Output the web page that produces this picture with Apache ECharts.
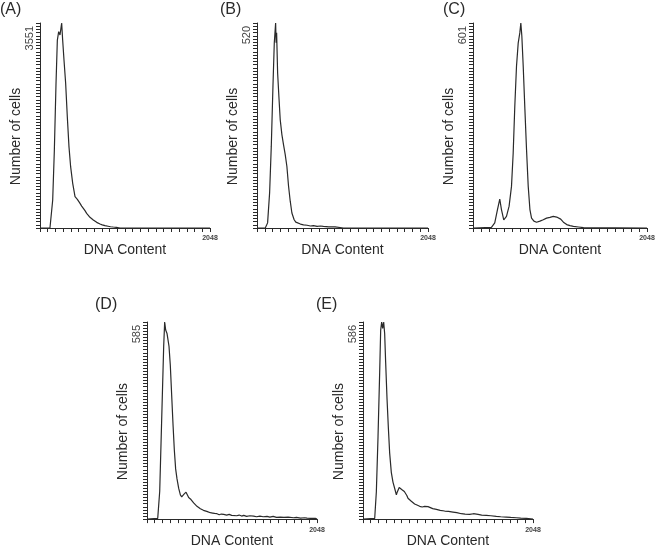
<!DOCTYPE html>
<html><head><meta charset="utf-8">
<script src="https://cdn.jsdelivr.net/npm/echarts@6/dist/echarts.min.js"></script>
<style>html,body{margin:0;padding:0;background:#fff}#c{width:658px;height:549px}</style>
</head><body><div id="c"></div>
<script>
// ---- data ----
const panelLabels = ['(A)', '(B)', '(C)', '(D)', '(E)'];
const yMaxValues = [3551, 520, 601, 585, 586];
const xMaxValue = 2048;
const xTitle = 'DNA Content';
const yTitle = 'Number of cells';

const channelsA = [0, 120, 153, 173, 193, 209, 225, 241, 261, 273, 289, 309, 329, 349, 369, 394, 422, 436, 450, 466, 482, 502, 522, 542, 562, 582, 602, 622, 642, 662, 683, 703, 723, 750, 783, 820, 850, 883, 920, 964, 2048];
const countsA   = [0, 0, 485, 1351, 2506, 3256, 3400, 3343, 3551, 3256, 2910, 2506, 1928, 1409, 1062, 774, 543, 520, 497, 470, 427, 380, 341, 300, 254, 220, 185, 160, 139, 115, 98, 82, 69, 55, 40, 30, 22, 17, 12, 0, 0];

const channelsB = [0, 99, 127, 151, 171, 191, 207, 223, 229, 235, 247, 262, 278, 298, 318, 338, 358, 378, 398, 418, 445, 465, 485, 520, 557, 600, 640, 676, 720, 760, 795, 860, 935, 1034, 2048];
const countsB   = [0, 0, 13, 89, 207, 359, 469, 520, 470, 495, 393, 334, 275, 237, 211, 186, 156, 106, 68, 38, 21, 15, 13, 10, 8, 7, 5, 6, 4, 5, 4, 3, 3, 0, 0];

const channelsC = [0, 217, 256, 288, 315, 335, 362, 394, 425, 453, 473, 492, 512, 532, 551, 563, 575, 591, 611, 630, 650, 670, 689, 717, 748, 788, 827, 866, 906, 945, 985, 1004, 1032, 1064, 1103, 1142, 1182, 1241, 1300, 2048];
const countsC   = [0, 2, 15, 54, 85, 54, 24, 34, 64, 122, 220, 357, 474, 542, 572, 601, 562, 474, 347, 230, 122, 54, 29, 20, 17, 20, 24, 29, 31, 34, 32, 36, 26, 17, 10, 7, 5, 3, 1, 0];

const channelsD = [0, 129, 153, 169, 185, 201, 213, 225, 241, 253, 265, 281, 297, 313, 329, 345, 361, 382, 402, 418, 434, 446, 462, 470, 482, 490, 502, 516, 530, 546, 562, 580, 602, 620, 643, 660, 680, 703, 720, 740, 763, 790, 815, 843, 870, 895, 924, 960, 990, 1020, 1044, 1080, 1110, 1140, 1165, 1200, 1240, 1285, 1320, 1360, 1400, 1446, 1480, 1520, 1560, 1606, 1650, 1700, 1767, 1800, 1850, 1900, 1928, 1970, 2028, 2048];
const countsD   = [0, 2, 82, 225, 369, 513, 585, 561, 551, 547, 513, 456, 369, 283, 206, 149, 120, 91, 72, 66, 67, 74, 72, 80, 77, 70, 64, 62, 58, 53, 48, 44, 38, 36, 31, 30, 26, 24, 23, 20, 19, 18, 17, 16, 13, 15, 14, 12, 14, 11, 12, 10, 12, 9, 11, 8, 10, 9, 7, 9, 7, 8, 6, 8, 5, 6, 5, 6, 4, 5, 3, 4, 3, 2, 2, 0];

const channelsE = [0, 141, 161, 181, 201, 213, 225, 237, 249, 261, 273, 289, 305, 321, 341, 361, 382, 402, 412, 422, 436, 450, 466, 482, 498, 514, 528, 542, 562, 582, 602, 622, 650, 683, 713, 743, 763, 783, 803, 840, 884, 930, 984, 1030, 1084, 1130, 1185, 1230, 1285, 1330, 1386, 1430, 1486, 1540, 1606, 1660, 1727, 1780, 1847, 1900, 1968, 2048];
const countsE   = [0, 2, 82, 245, 437, 562, 586, 567, 586, 552, 466, 360, 274, 197, 139, 110, 91, 72, 80, 84, 94, 91, 88, 86, 82, 77, 70, 62, 57, 53, 48, 45, 42, 38, 36, 38, 43, 37, 34, 31, 29, 26, 24, 23, 21, 19, 16, 15, 14, 16, 14, 12, 11, 10, 8, 7, 6, 5, 4, 3, 2, 0];

const panelChannels = [channelsA, channelsB, channelsC, channelsD, channelsE];
const panelCounts = [countsA, countsB, countsC, countsD, countsE];

// ---- layout ----
const grids = [
  {left: 40,  top: 23,  width: 170, height: 205},
  {left: 257, top: 23,  width: 171, height: 205},
  {left: 473, top: 23,  width: 174, height: 205},
  {left: 147, top: 322, width: 170, height: 203},
  {left: 363, top: 322, width: 170, height: 203}
];
const labelPos = [[0, 2], [220, 2], [443, 2], [95, 297], [316, 297]];
const FONT = 'Arial, "Liberation Sans", sans-serif';
const INK = '#2a2a2a';

const option = {
  backgroundColor: '#fff',
  animation: false,
  grid: grids.map(g => Object.assign({containLabel: false}, g)),
  xAxis: grids.map((g, i) => ({
    type: 'value', gridIndex: i, min: 0, max: xMaxValue, interval: xMaxValue / 22,
    axisLine: {show: true, lineStyle: {color: INK, width: 1}},
    axisTick: {show: true, length: 4, lineStyle: {color: INK, width: 1}},
    splitLine: {show: false},
    axisLabel: {
      show: true, margin: 7, fontSize: 7, fontWeight: 'bold', color: '#444', fontFamily: FONT,
      formatter: v => (v > xMaxValue - 1 ? String(xMaxValue) : '')
    },
    name: xTitle, nameLocation: 'middle', nameGap: 14,
    nameTextStyle: {fontSize: 14, color: INK, fontFamily: FONT}
  })),
  yAxis: grids.map((g, i) => {
    const m = yMaxValues[i];
    return {
      type: 'value', gridIndex: i, min: 0, max: m, interval: m / 64,
      axisLine: {show: true, lineStyle: {color: INK, width: 1}},
      axisTick: {show: true, length: 4, lineStyle: {color: INK, width: 1}},
      splitLine: {show: false},
      axisLabel: {
        show: true, rotate: 90, align: 'right', margin: 5, fontSize: 11, color: '#444', fontFamily: FONT,
        padding: [0, 3, 0, 0],
        formatter: v => (Math.abs(v - m) < m / 200 ? String(m) : '')
      },
      name: yTitle, nameLocation: 'middle', nameRotate: 90, nameGap: 13,
      nameTextStyle: {fontSize: 14, color: INK, fontFamily: FONT, padding: [0, 22, 0, 0]}
    };
  }),
  series: grids.map((g, i) => ({
    type: 'line', xAxisIndex: i, yAxisIndex: i,
    data: panelChannels[i].map((c, k) => [c, panelCounts[i][k]]),
    showSymbol: false, symbol: 'none', clip: false,
    lineStyle: {color: INK, width: 1.2}
  })),
  graphic: panelLabels.map((t, i) => ({
    type: 'text', left: labelPos[i][0], top: labelPos[i][1],
    style: {text: t, fontSize: 16, fill: INK, fontFamily: FONT}
  }))
};

const chart = echarts.init(document.getElementById('c'), null, {renderer: 'canvas'});
chart.setOption(option);
</script>
</body></html>
